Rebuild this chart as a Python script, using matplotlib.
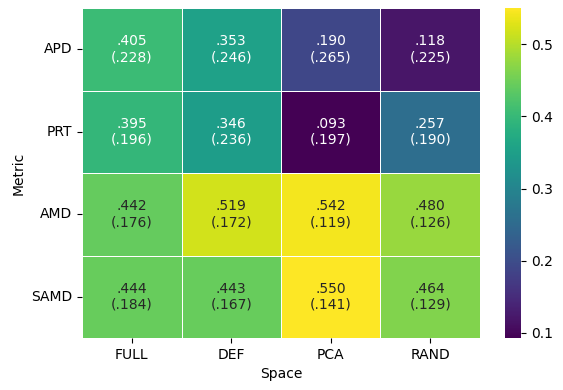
import matplotlib

matplotlib.use("Agg")
import matplotlib.pyplot as plt
import numpy as np
import seaborn as sns

# --------- Data ---------
metrics = ["APD", "PRT", "AMD", "SAMD"]
spaces = ["FULL", "DEF", "PCA", "RAND"]

means = np.array([
    [0.405, 0.353, 0.190, 0.118],
    [0.395, 0.346, 0.093, 0.257],
    [0.442, 0.519, 0.542, 0.480],
    [0.444, 0.443, 0.550, 0.464],
])
stds = np.array([
    [0.228, 0.246, 0.265, 0.225],
    [0.196, 0.236, 0.197, 0.190],
    [0.176, 0.172, 0.119, 0.126],
    [0.184, 0.167, 0.141, 0.129],
])


def fmt(v):
    return f"{v:.3f}".lstrip("0")


labels = np.array([[f"{fmt(m)}\n({fmt(s)})" for m, s in zip(mr, sr)]
                   for mr, sr in zip(means, stds)])

fig = plt.figure(figsize=(5.63, 3.9), dpi=100)
ax = fig.add_axes([82 / 563, 52 / 390, 398 / 563, 330 / 390])
cax = fig.add_axes([505 / 563, 52 / 390, 16 / 563, 330 / 390])

sns.heatmap(means, annot=labels, fmt="", cmap="viridis", linewidths=0.5,
            linecolor="white", xticklabels=spaces, yticklabels=metrics,
            ax=ax, cbar_ax=cax, annot_kws={"fontsize": 10})
ax.set_xlabel("Space")
ax.set_ylabel("Metric")
ax.tick_params(axis="y", rotation=0)
cax.set_yticks([0.1, 0.2, 0.3, 0.4, 0.5])

fig.savefig("out.png", dpi=100)
